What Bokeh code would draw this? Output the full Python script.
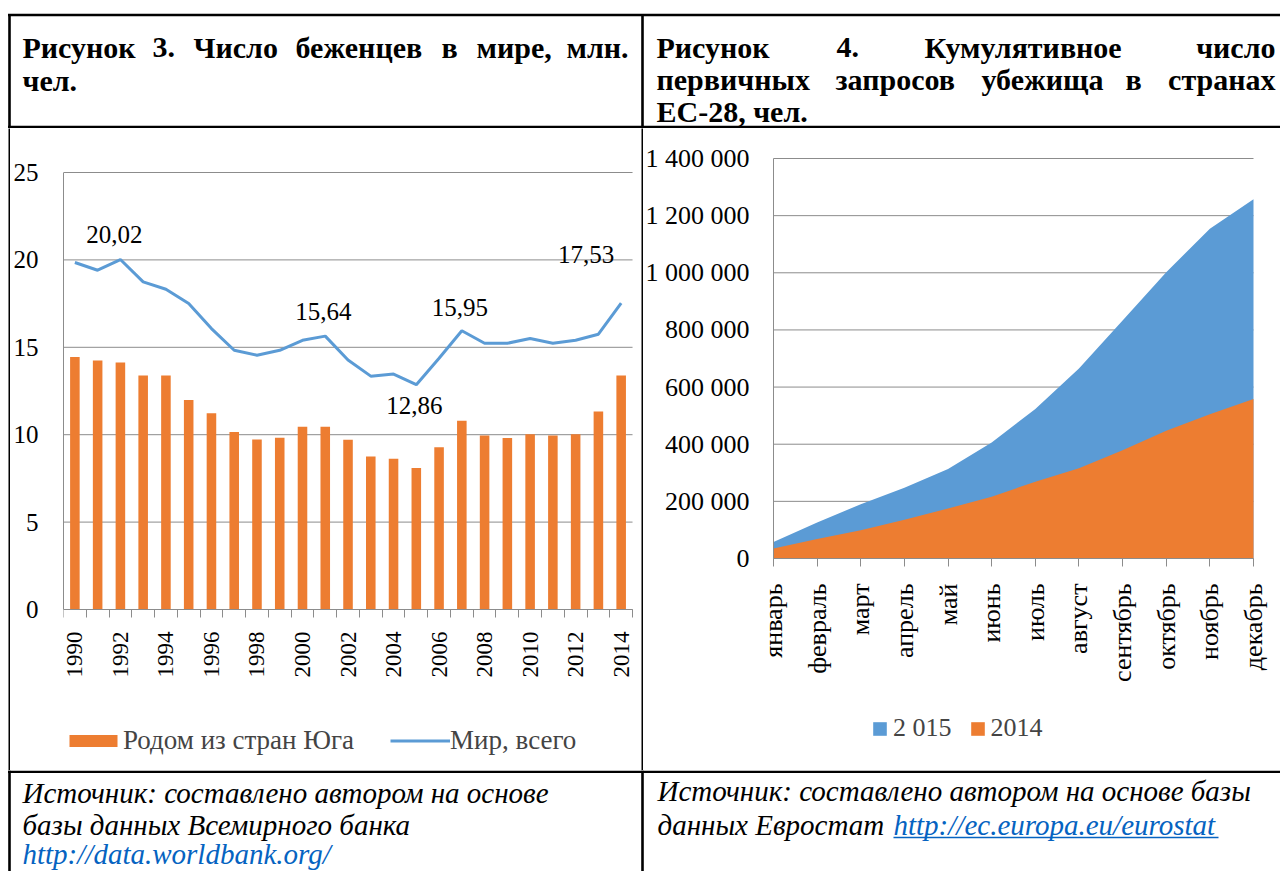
from math import pi
from bokeh.plotting import figure
from bokeh.models import Range1d, FixedTicker, Legend, LegendItem, LabelSet, ColumnDataSource
from bokeh.layouts import row, column
from bokeh.embed import file_html
from bokeh.resources import INLINE
from bokeh.core.properties import value

SERIF = "Liberation Serif"
GRID = "#8C8C8C"
ORANGE = "#ED7D31"
BLUE = "#5B9BD5"
LINK = "#0563C1"

# ---------------- data: figure 3 ----------------
years = list(range(1990, 2015))
south = [14.45, 14.25, 14.13, 13.38, 13.38, 11.98, 11.22, 10.15, 9.73, 9.83,
         10.46, 10.46, 9.71, 8.75, 8.63, 8.10, 9.28, 10.80, 9.96, 9.81,
         10.02, 9.96, 10.02, 11.33, 13.38]
world = [19.85, 19.41, 20.02, 18.74, 18.32, 17.50, 16.07, 14.83, 14.55, 14.83,
         15.40, 15.64, 14.27, 13.35, 13.47, 12.86, 14.37, 15.95, 15.23, 15.23,
         15.50, 15.23, 15.40, 15.75, 17.53]
label_years = [1992, 2001, 2005, 2007, 2014]
year_ticks = list(range(1990, 2015, 2))
left_y_ticks = [0, 5, 10, 15, 20, 25]
left_series = ["Родом из стран Юга", "Мир, всего"]

# ---------------- data: figure 4 ----------------
months = ["январь", "февраль", "март", "апрель", "май", "июнь", "июль",
          "август", "сентябрь", "октябрь", "ноябрь", "декабрь"]
asylum_2015 = [58000, 126000, 190000, 248000, 313000, 406000, 523000,
               665000, 833000, 1002000, 1154000, 1257000]
asylum_2014 = [35000, 68000, 99000, 136000, 175000, 216000, 269000,
               316000, 379000, 447000, 505000, 558000]
right_y_ticks = [0, 200000, 400000, 600000, 800000, 1000000, 1200000, 1400000]
right_series = ["2 015", "2014"]

title3 = [["Рисунок", "3.", "Число", "беженцев", "в", "мире,", "млн."], ["чел."]]
title4 = [["Рисунок", "4.", "Кумулятивное", "число"],
          ["первичных", "запросов", "убежища", "в", "странах"],
          ["ЕС-28, чел."]]
source3 = ["Источник: составлено автором на основе", "базы данных Всемирного банка",
           "http://data.worldbank.org/"]
source4 = ["Источник: составлено автором на основе базы", "данных Евростат",
           "http://ec.europa.eu/eurostat"]

W = 1280
H_HEAD = 128
H_CH = 642
H_SRC = 871 - H_HEAD - H_CH


def canvas(w, h, bg="white"):
    p = figure(width=w, height=h, x_range=Range1d(0, w), y_range=Range1d(h, 0),
               output_backend="svg", toolbar_location=None, min_border=0,
               x_axis_location=None, y_axis_location=None,
               background_fill_color=bg, border_fill_color=bg, outline_line_color=None)
    p.xgrid.visible = False
    p.ygrid.visible = False
    return p


# ---------------- header ----------------
head = canvas(W, H_HEAD)
head.segment(x0=[7.5, 9, 642, 7.5], y0=[14.5, 13.5, 13.5, 126.5],
             x1=[W, 9, 642, W], y1=[14.5, H_HEAD, H_HEAD, 126.5],
             line_color="black", line_width=2.6)
tfont = dict(text_font=value(SERIF), text_font_size="30px", text_font_style="bold",
             text_baseline="alphabetic", text_color="black")
head.text(x=[22, 152, 193, 295, 441, 476], y=[47] * 6, text=title3[0][:6], text_align="left", **tfont)
head.text(x=[628], y=[47], text=[title3[0][6]], text_align="right", **tfont)
head.text(x=[22], y=[80], text=title3[1], text_align="left", **tfont)
head.text(x=[656, 836, 924], y=[47] * 3, text=title4[0][:3], text_align="left", **tfont)
head.text(x=[1275], y=[47], text=[title4[0][3]], text_align="right", **tfont)
head.text(x=[656, 835, 981, 1125], y=[79] * 4, text=title4[1][:4], text_align="left", **tfont)
head.text(x=[1275], y=[79], text=[title4[1][4]], text_align="right", **tfont)
head.text(x=[656], y=[111], text=title4[2], text_align="left", **tfont)


# ---------------- left chart ----------------
# frame: x 60..641, y 128..770 (page);  value 0 at y=609, 25 at y=172; 1989.5 at x=60, 2014.5 at x=632
px_l = (609 - 172) / 25.0
px_lx = (632 - 60) / 25.0
pl = figure(width=631, height=H_CH, x_range=Range1d(1989.5, 2014.5 + (641 - 632) / px_lx),
            y_range=Range1d(-(770 - 609) / px_l, (609 - 128) / px_l),
            output_backend="svg", toolbar_location=None,
            min_border_left=50, min_border_right=0, min_border_top=0, min_border_bottom=0,
            outline_line_color=None, background_fill_color="white", border_fill_color="white")
pl.xgrid.visible = False
pl.ygrid.visible = False
pl.segment(x0=1989.5, y0=left_y_ticks, x1=2014.5, y1=left_y_ticks, line_color=GRID, line_width=1)
r_bar = pl.vbar(x=years, top=south, width=0.42, fill_color=ORANGE, line_color=None)
r_line = pl.line(x=years, y=world, line_color=BLUE, line_width=3)

xa = pl.xaxis[0]
xa.fixed_location = 0
xa.bounds = (1989.5, 2014.5)
xa.ticker = FixedTicker(ticks=year_ticks, minor_ticks=[y - 0.5 for y in years] + [2014.5])
xa.major_tick_in = 0
xa.major_tick_out = 0
xa.minor_tick_in = 0
xa.minor_tick_out = 8
xa.minor_tick_line_color = GRID
xa.axis_line_color = GRID
xa.major_label_orientation = pi / 2
xa.major_label_standoff = 14
xa.major_label_text_font = SERIF
xa.major_label_text_font_size = "23px"
xa.major_label_text_color = "black"

ya = pl.yaxis[0]
ya.bounds = (0, 25)
ya.ticker = FixedTicker(ticks=left_y_ticks)
ya.major_tick_in = 0
ya.major_tick_out = 0
ya.minor_tick_line_color = None
ya.axis_line_color = GRID
ya.major_label_standoff = 25
ya.major_label_text_font = SERIF
ya.major_label_text_font_size = "25px"
ya.major_label_text_color = "black"

lab_y = [world[years.index(y)] for y in label_years]
lab_t = [f"{v:.2f}".replace(".", ",") for v in lab_y]
lab_src = ColumnDataSource(dict(x=label_years, y=lab_y, t=lab_t,
                                xo=[-6, -2, -2, -2, -35], yo=[17, 16, -29, 15, 40]))
pl.add_layout(LabelSet(x="x", y="y", text="t", source=lab_src, x_offset="xo", y_offset="yo",
                       text_align="center", text_baseline="alphabetic",
                       text_font=value(SERIF), text_font_size="25px", text_color="black"))

leg_l = Legend(items=[LegendItem(label=left_series[0], renderers=[r_bar]),
                      LegendItem(label=left_series[1], renderers=[r_line])],
               location=(0, 14), orientation="horizontal", glyph_width=60, glyph_height=15,
               label_standoff=0, spacing=36, padding=0, margin=0, border_line_color=None,
               background_fill_alpha=0, label_text_font=SERIF, label_text_font_size="27px",
               label_height=27)
pl.add_layout(leg_l)

# ---------------- right chart ----------------
# frame: whole cell x 643..1280, y 128..770; month 0 at x=773, month 11 at x=1253;
# value 0 at y=558, 1 400 000 at y=158
idx = list(range(len(months)))
px_rx = (1253 - 773) / 11.0
px_r = (558 - 158) / 1400000.0
pr = figure(width=637, height=H_CH,
            x_range=Range1d(-(773 - 643) / px_rx, 11 + (1280 - 1253) / px_rx),
            y_range=Range1d(-(770 - 558) / px_r, (558 - 128) / px_r),
            output_backend="svg", toolbar_location=None, min_border=0,
            outline_line_color=None, background_fill_color="white", border_fill_color="white")
pr.xgrid.visible = False
pr.ygrid.visible = False
pr.segment(x0=0, y0=right_y_ticks, x1=11, y1=right_y_ticks, line_color=GRID, line_width=1)
r15 = pr.varea(x=idx, y1=0, y2=asylum_2015, fill_color=BLUE)
r14 = pr.varea(x=idx, y1=0, y2=asylum_2014, fill_color=ORANGE)

xr = pr.xaxis[0]
xr.fixed_location = 0
xr.bounds = (0, 11)
xr.ticker = FixedTicker(ticks=idx)
xr.major_label_overrides = {i: m for i, m in zip(idx, months)}
xr.major_tick_in = 0
xr.major_tick_out = 8
xr.major_tick_line_color = GRID
xr.minor_tick_line_color = None
xr.axis_line_color = GRID
xr.major_label_orientation = pi / 2
xr.major_label_standoff = 17
xr.major_label_text_font = SERIF
xr.major_label_text_font_size = "26px"
xr.major_label_text_color = "black"

yr = pr.yaxis[0]
yr.fixed_location = 0
yr.bounds = (0, 1400000)
yr.ticker = FixedTicker(ticks=right_y_ticks)
yr.major_label_overrides = {v: f"{v:,}".replace(",", " ") for v in right_y_ticks}
yr.major_tick_in = 0
yr.major_tick_out = 0
yr.minor_tick_line_color = None
yr.axis_line_color = GRID
yr.major_label_standoff = 24
yr.major_label_text_font = SERIF
yr.major_label_text_font_size = "26px"
yr.major_label_text_color = "black"

leg_r = Legend(items=[LegendItem(label=right_series[0], renderers=[r15]),
                      LegendItem(label=right_series[1], renderers=[r14])],
               location=(228, 27), orientation="horizontal", glyph_width=17, glyph_height=17,
               label_standoff=5, spacing=17, padding=0, margin=0, border_line_color=None,
               background_fill_alpha=0, label_text_font=SERIF, label_text_font_size="26px",
               label_height=26)
pr.add_layout(leg_r)

# ---------------- source row ----------------
src = canvas(W, H_SRC)
src.segment(x0=[7.5, 9, 642], y0=[1.3, 0, 0], x1=[W, 9, 642], y1=[1.3, H_SRC, H_SRC],
            line_color="black", line_width=2.6)
sfont = dict(text_font=value(SERIF), text_font_size="29px", text_font_style="italic",
             text_baseline="alphabetic", text_align="left")
src.text(x=[22, 22], y=[22, 54], text=source3[:2], text_color="black", **sfont)
src.text(x=[22], y=[83], text=[source3[2]], text_color=LINK, **sfont)
src.text(x=[657, 657], y=[20, 54], text=source4[:2], text_color="black", **sfont)
src.text(x=[893], y=[54], text=[source4[2]], text_color=LINK, **sfont)
src.segment(x0=[893], y0=[67], x1=[1218], y1=[67], line_color=LINK, line_width=1.5)

chart_row = row(canvas(8, H_CH), canvas(2, H_CH, bg="black"), pl,
                canvas(2, H_CH, bg="black"), pr)
layout = column(head, chart_row, src)

with open("out.html", "w") as f:
    f.write(file_html(layout, INLINE))
